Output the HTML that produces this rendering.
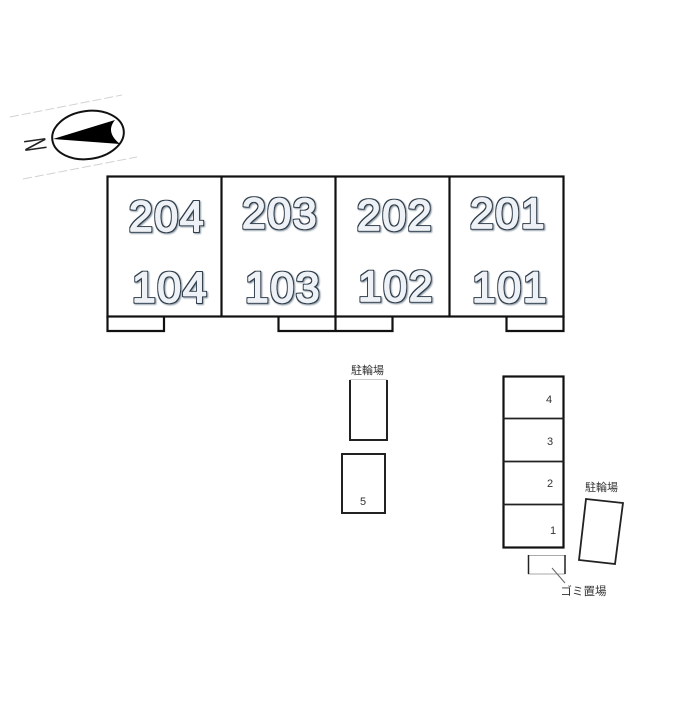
<!DOCTYPE html>
<html>
<head>
<meta charset="utf-8">
<style>
html,body{margin:0;padding:0;background:#fff}
svg{display:block}
.n{font-family:"Liberation Sans",sans-serif;font-size:43px;letter-spacing:1.5px;text-anchor:middle;fill:#eef2f6;stroke:#eef2f6;stroke-width:1.4px;stroke-linejoin:round;filter:url(#o)}
.s{font-family:"Liberation Sans",sans-serif;font-size:11px;fill:#333;text-anchor:middle}
.j{font-family:"Liberation Sans","Noto Sans CJK JP",sans-serif;font-size:11px;fill:#333;text-anchor:middle}
</style>
</head>
<body>
<svg width="700" height="701" viewBox="0 0 700 701" xmlns="http://www.w3.org/2000/svg">
<defs>
<filter id="o" x="-10%" y="-20%" width="120%" height="140%">
<feMorphology in="SourceAlpha" operator="dilate" radius="1" result="d"/>
<feFlood flood-color="#2f3d4c"/>
<feComposite in2="d" operator="in" result="line"/>
<feGaussianBlur in="d" stdDeviation="0.8" result="b"/>
<feOffset in="b" dx="0.8" dy="0.8" result="sh"/>
<feFlood flood-color="#8d99a5"/>
<feComposite in2="sh" operator="in" result="shadow"/>
<feMerge>
<feMergeNode in="shadow"/>
<feMergeNode in="line"/>
<feMergeNode in="SourceGraphic"/>
</feMerge>
</filter>
</defs>
<rect width="700" height="701" fill="#fff"/>
<!-- compass -->
<path d="M10 117L122 95M23 179L137 157" stroke="#d2d2d2" stroke-width="1" stroke-dasharray="9 3" fill="none"/>
<ellipse cx="88" cy="135" rx="36" ry="24" transform="rotate(-8 88 135)" fill="#fff" stroke="#111" stroke-width="2"/>
<path d="M53 139L115 120Q105 132 120 144Z" fill="#000"/>
<text x="0" y="0" transform="translate(46,143) rotate(-98) scale(1.4,2.4)" font-family="Liberation Sans,sans-serif" font-size="13" fill="#222" text-anchor="middle">N</text>
<!-- building -->
<g fill="none" stroke="#111" stroke-width="2.2">
<rect x="107.500" y="176.500" width="456" height="140"/>
<path d="M221.500 176V316M335.500 176V316M449.500 176V316"/>
<path d="M107.500 316V331H164V316M278.500 316V331H335.500V316M335.500 331H392.500V316M506.500 316V331H563.500V316"/>
</g>
<text class="n" x="167" y="231">204</text>
<text class="n" x="280" y="228">203</text>
<text class="n" x="395" y="230">202</text>
<text class="n" x="508" y="228">201</text>
<text class="n" x="170" y="302">104</text>
<text class="n" x="283" y="302">103</text>
<text class="n" x="396" y="301">102</text>
<text class="n" x="510" y="302">101</text>
<!-- bike parking middle -->
<path d="M350 380V440H387V380" fill="none" stroke="#222" stroke-width="2"/>
<path d="M350 379.500H387" stroke="#ccc" stroke-width="1"/>
<text class="j" x="367.500" y="374">駐輪場</text>
<rect x="342" y="454" width="43" height="59" fill="none" stroke="#222" stroke-width="2"/>
<text class="s" x="363" y="505">5</text>
<!-- parking right -->
<g fill="none" stroke="#111" stroke-width="2.200">
<rect x="503.500" y="376.500" width="60" height="171"/>
</g>
<path d="M503 418.500H564M503 461.500H564M503 504.500H564" stroke="#222" stroke-width="1.800"/>
<text class="s" x="549" y="403">4</text>
<text class="s" x="550" y="445">3</text>
<text class="s" x="550" y="487">2</text>
<text class="s" x="553" y="534">1</text>
<!-- garbage -->
<path d="M528 555.500H565M528 574H565" stroke="#aaa" stroke-width="1"/>
<path d="M528.500 555V574M565 555V574" stroke="#222" stroke-width="1.500"/>
<path d="M552 568L565 583" stroke="#666" stroke-width="1"/>
<text class="j" x="583.500" y="595" style="font-size:11.500px">ゴミ置場</text>
<!-- bike parking right -->
<polygon points="586,499 623,503 615,564 579,560" fill="none" stroke="#222" stroke-width="1.800"/>
<text class="j" x="601.500" y="491">駐輪場</text>
</svg>
</body>
</html>
